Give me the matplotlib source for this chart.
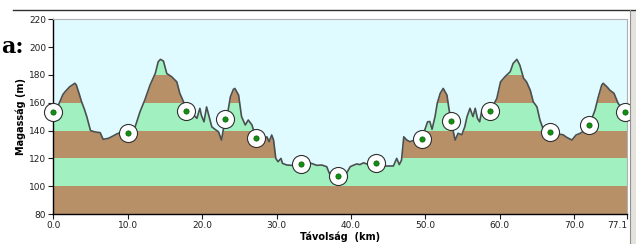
import matplotlib
matplotlib.use("Agg")
import matplotlib.pyplot as plt
import numpy as np
from matplotlib.lines import Line2D
from matplotlib.patches import Rectangle

# ---- data ----
dist_km = [0.0, 0.5, 0.9, 1.3, 1.6, 2.2, 2.9, 3.1, 3.5, 3.8, 4.2, 4.5, 5.0, 5.6, 6.3, 6.7, 7.4,
           8.0, 8.5, 9.2, 10.0, 10.5, 11.0, 11.65, 12.3, 13.0, 13.7, 14.1, 14.4, 14.8, 15.25,
           15.9, 16.6, 17.0, 17.5, 17.9, 18.4, 18.9, 19.3, 19.7, 19.9, 20.25, 20.6, 21.0, 21.3,
           21.7, 22.2, 22.6, 23.1, 23.5, 23.8, 24.2, 24.4, 24.9, 25.3, 25.8, 26.2, 26.7, 27.2,
           27.7, 28.2, 28.7, 29.0, 29.35, 29.6, 29.9, 30.2, 30.6, 30.8, 31.4, 32.0, 33.25, 34.0,
           34.7, 35.4, 36.1, 36.75, 37.1, 37.7, 38.3, 38.9, 39.4, 39.9, 40.3, 40.8, 41.2, 41.7,
           42.1, 42.8, 43.4, 44.0, 44.6, 45.7, 46.15, 46.5, 46.8, 47.1, 47.5, 47.9, 48.5, 49.5,
           50.0, 50.3, 50.6, 50.9, 51.3, 51.6, 52.0, 52.4, 52.9, 53.2, 53.45, 53.8, 54.0, 54.4,
           54.9, 55.3, 55.6, 56.0, 56.4, 56.7, 57.0, 57.3, 57.6, 58.7, 59.6, 60.1, 60.7, 61.4,
           61.8, 62.3, 62.7, 63.2, 63.6, 64.1, 64.5, 65.0, 65.4, 65.8, 66.7, 67.3, 67.9, 68.5,
           69.0, 69.7, 70.25, 70.8, 71.4, 72.0, 72.4, 72.8, 73.25, 73.7, 73.9, 74.4, 74.8,
           75.35, 75.9, 76.8, 77.1]
elev_m = [152, 156, 161, 166, 168, 171.5, 174, 172.7, 166, 160.7, 155, 150, 140, 139, 138.5,
          133.7, 134.4, 136, 137.5, 139, 138.5, 140, 142.7, 153.5, 162, 172.7, 181, 189.5, 191.2,
          190, 181, 178.7, 175, 166.8, 160.7, 154, 153, 151, 148.8, 156, 151, 146.3, 157, 148.8,
          142.7, 141, 139.1, 133.2, 148, 154.7, 164.3, 169.6, 170.3, 165.5, 150, 144, 147.6, 144,
          134.8, 135, 133.2, 135.5, 132, 136.8, 133.2, 120, 117.6, 120, 116.4, 115.2, 115, 115.7,
          116, 116.4, 115, 115.2, 114, 109.2, 108, 107.3, 108, 109.2, 114, 115, 116, 115.5, 116.8,
          116, 117, 116.4, 115, 114.5, 114.5, 120, 115.5, 118.8, 135.5, 133.2, 132, 133, 134.2,
          141.6, 146.3, 146.5, 140.9, 150, 159.6, 166.8, 170.3, 165.5, 154.7, 147, 138, 133.2, 138,
          137, 142.7, 150, 156, 150, 156, 148.8, 146.3, 154.7, 154, 163, 175, 178.7, 182.3,
          188.3, 191.2, 187, 177.6, 175, 169, 160.7, 157, 147.6, 141.6, 138.7, 138.5, 137.5, 137,
          135.1, 133.2, 136.8, 138, 140, 144.2, 149, 154.7, 164.3, 172.7, 174, 171.5, 169,
          166.8, 159.6, 153.3, 153]

waypoint_km = [0.0, 10.0, 17.9, 23.1, 27.2, 33.25, 38.3, 43.4, 49.5, 53.45, 58.7, 66.7, 72.0, 76.8]
waypoint_elev = [153.5, 138.5, 154, 148.3, 134.8, 115.7, 107.3, 116.4, 134.2, 147, 154, 138.7, 144.2, 153.3]

x_ticks = [0.0, 10.0, 20.0, 30.0, 40.0, 50.0, 60.0, 70.0, 77.1]
x_tick_labels = ["0.0", "10.0", "20.0", "30.0", "40.0", "50.0", "60.0", "70.0", "77.1"]
y_ticks = [80, 100, 120, 140, 160, 180, 200, 220]
band_edges = [80, 100, 120, 140, 160, 180, 200]

SKY = "#e0fbff"
GREEN = "#a0f0c0"
BROWN = "#b89068"

fig = plt.figure(figsize=(6.36, 2.44), dpi=100)
fig.patch.set_facecolor("white")
ax = fig.add_axes([53.3 / 636, 1 - 214 / 244, (627 - 53.3) / 636, (214 - 19.3) / 244])

x = np.array(dist_km)
y = np.array(elev_m)

# bands
for i in range(len(band_edges) - 1):
    ax.axhspan(band_edges[i], band_edges[i + 1], color=BROWN if i % 2 == 0 else GREEN, lw=0, zorder=0)
ax.axhspan(200, 220, color=SKY, lw=0, zorder=0)
ax.fill_between(x, y, 220, color=SKY, lw=0, zorder=1)
ax.plot(x, y, color="#4a5050", lw=1.2, zorder=2)

# waypoints
ax.plot(waypoint_km, waypoint_elev, ls="none", marker="o", ms=13, mfc="white", mec="#303030",
        mew=0.8, zorder=4, clip_on=False)
ax.plot(waypoint_km, waypoint_elev, ls="none", marker="o", ms=3.8, mfc="#109010", mec="#0a5a0a",
        mew=0.5, zorder=5, clip_on=False)

ax.set_xlim(0, 77.1)
ax.set_ylim(80, 220)
ax.set_xticks(x_ticks)
ax.set_xticklabels(x_tick_labels)
ax.set_yticks(y_ticks)
ax.tick_params(axis="both", labelsize=6.5, length=3.5, width=0.8, pad=1.5, colors="#202020")
ax.get_xticklabels()[-1].set_horizontalalignment("right")
for s in ("top", "right"):
    ax.spines[s].set_color("#b0b0b0")
    ax.spines[s].set_linewidth(0.8)
for s in ("left", "bottom"):
    ax.spines[s].set_color("black")
    ax.spines[s].set_linewidth(1.0)

ax.set_ylabel("Magasság (m)", fontsize=7, fontweight="bold", labelpad=2)
ax.set_xlabel("Távolság  (km)", fontsize=7, fontweight="bold", labelpad=1)

# decorations of the page
fig.add_artist(Line2D([12.7 / 636, 1], [1 - 10 / 244, 1 - 10 / 244], color="#303030", lw=1.0))
fig.add_artist(Rectangle((630 / 636, 0), 6 / 636, 1 - 10 / 244, transform=fig.transFigure,
                         facecolor="#e4e2dc", edgecolor="none"))
fig.add_artist(Line2D([630 / 636, 630 / 636], [0, 1 - 10 / 244], color="#909090", lw=0.8))
fig.text(1 / 636, 1 - 47 / 244, "a:", ha="left", va="center", fontsize=16, fontweight="bold",
         family="DejaVu Serif")

fig.savefig("out.png", dpi=100)
